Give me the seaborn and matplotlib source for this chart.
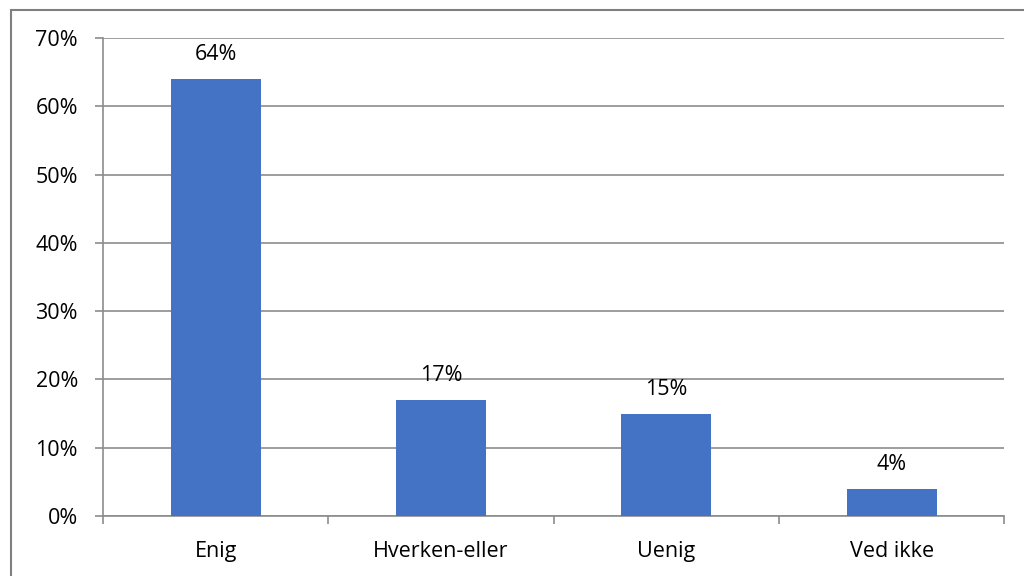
import matplotlib.pyplot as plt
import seaborn as sns
import numpy as np
import pandas as pd
from matplotlib.patches import Rectangle
from matplotlib.ticker import FixedLocator

# Svarfordeling
kategorier = ['Enig', 'Hverken-eller', 'Uenig', 'Ved ikke']
andel = [64, 17, 15, 4]
etiketter = ['64%', '17%', '15%', '4%']

df = pd.DataFrame({'kategori': kategorier, 'andel': andel})

sns.set_style('white')
plt.rcParams['font.family'] = ['Open Sans', 'DejaVu Sans']

fig = plt.figure(figsize=(10.24, 5.76), dpi=100)
ax = fig.add_axes([0.1006, 0.1042, 0.8803, 0.8299])

# outer chart frame (partly cut off at right/bottom)
fig.patches.append(Rectangle((11 / 1024, -0.1), 1.2, 1 - 10 / 576 + 0.1,
                             transform=fig.transFigure, fill=False,
                             edgecolor='#7f7f7f', linewidth=1.5, zorder=0))

sns.barplot(data=df, x='kategori', y='andel', color='#4472C4', width=0.4,
            saturation=1, linewidth=0, ax=ax, zorder=3)

for i, (v, t) in enumerate(zip(andel, etiketter)):
    ax.text(i, v + 2.0, t, ha='center', va='bottom', fontsize=15.5, color='black')

ax.set_ylim(0, 70)
ax.set_xlim(-0.5, 3.5)
ax.set_yticks(np.arange(0, 71, 10))
ax.set_yticklabels([f'{v}%' for v in range(0, 71, 10)], fontsize=15.5)
ax.yaxis.grid(True, color='#8c8c8c', linewidth=1.2)
ax.set_axisbelow(True)
ax.tick_params(axis='y', length=6, width=1.2, color='#8c8c8c', pad=12, left=True,
               labelcolor='black')
ax.tick_params(axis='x', which='major', length=0, labelsize=15.5, pad=18,
               labelcolor='black')
ax.xaxis.set_minor_locator(FixedLocator([-0.5, 0.5, 1.5, 2.5, 3.5]))
ax.tick_params(axis='x', which='minor', length=6, width=1.2, color='#8c8c8c', bottom=True)
ax.set_xlabel('')
ax.set_ylabel('')

for s in ['top', 'right']:
    ax.spines[s].set_visible(False)
for s in ['left', 'bottom']:
    ax.spines[s].set_color('#8c8c8c')
    ax.spines[s].set_linewidth(1.2)

plt.savefig('out.png', dpi=100)
